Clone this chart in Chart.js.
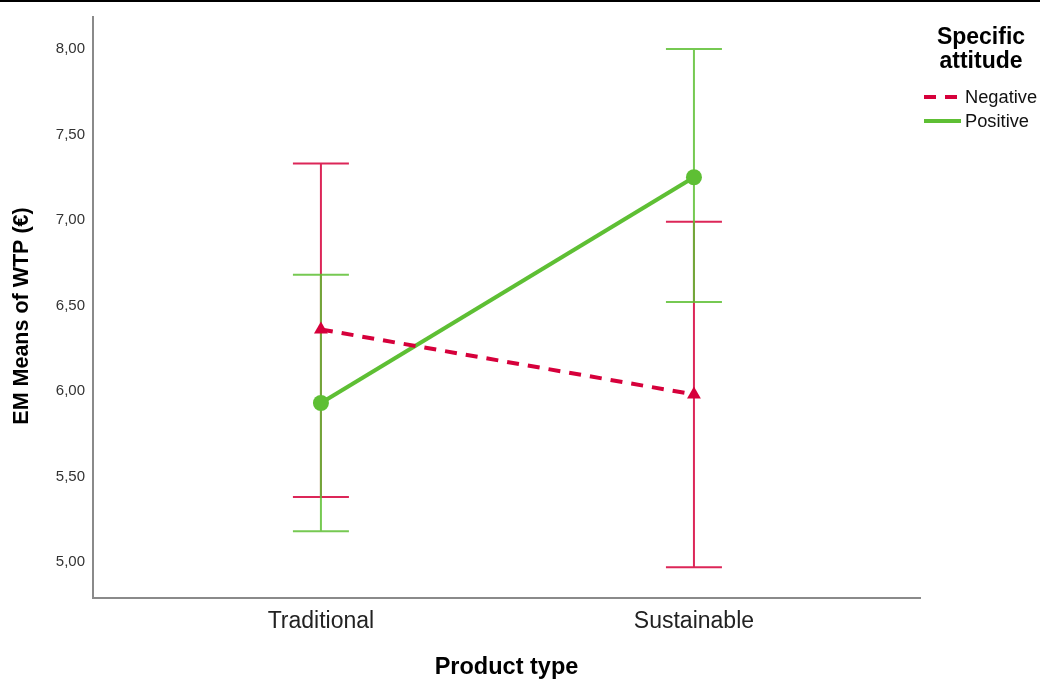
<!DOCTYPE html>
<html>
<head>
<meta charset="utf-8">
<script src="https://cdn.jsdelivr.net/npm/chart.js@4"></script>
<style>
  html, body { margin: 0; padding: 0; background: #fff; }
  #wrap { width: 1040px; height: 680px; position: relative; }
</style>
</head>
<body>
<div id="wrap"><canvas id="c"></canvas></div>
<script>
// Estimated marginal means of willingness to pay, with 95% CI bounds
const categories = ['Traditional', 'Sustainable'];
const seriesNames = ['Negative', 'Positive'];
const negativeMeans = [6.36, 5.98];
const negativeLower = [5.38, 4.97];
const negativeUpper = [7.33, 6.99];
const positiveMeans = [5.93, 7.25];
const positiveLower = [5.18, 6.52];
const positiveUpper = [6.68, 8.00];
const yTickValues = [5.0, 5.5, 6.0, 6.5, 7.0, 7.5, 8.0];

const RED = '#d6003b';
const GREEN = '#5ebf34';
const FONT = "'Liberation Sans', Arial, sans-serif";

const toPoints = arr => arr.map((v, i) => ({ x: i, y: v }));

const errorBars = [
  { color: 'rgba(214,0,59,0.85)', lower: negativeLower, upper: negativeUpper },
  { color: 'rgba(94,191,52,0.85)', lower: positiveLower, upper: positiveUpper }
];

// Whiskers with caps, drawn behind the mean lines
const errorBarPlugin = {
  id: 'errorBars',
  beforeDatasetsDraw(chart) {
    const { ctx, scales: { x, y } } = chart;
    ctx.save();
    ctx.lineWidth = 2;
    errorBars.forEach(eb => {
      ctx.strokeStyle = eb.color;
      eb.lower.forEach((lo, i) => {
        const px = x.getPixelForValue(i);
        const yLo = y.getPixelForValue(lo);
        const yHi = y.getPixelForValue(eb.upper[i]);
        ctx.beginPath();
        ctx.moveTo(px, yLo); ctx.lineTo(px, yHi);
        ctx.moveTo(px - 28, yLo); ctx.lineTo(px + 28, yLo);
        ctx.moveTo(px - 28, yHi); ctx.lineTo(px + 28, yHi);
        ctx.stroke();
      });
    });
    ctx.restore();
  }
};

// Frame line, vertical axis title and the legend block on the right
const legendPlugin = {
  id: 'sideLegend',
  afterDraw(chart) {
    const { ctx } = chart;
    ctx.save();
    ctx.fillStyle = '#000';
    ctx.fillRect(0, 0, chart.width, 2);

    // vertical axis title
    ctx.save();
    ctx.translate(22, 316);
    ctx.rotate(-Math.PI / 2);
    ctx.textAlign = 'center';
    ctx.textBaseline = 'middle';
    ctx.font = 'bold 21.5px ' + FONT;
    ctx.fillText('EM Means of WTP (€)', 0, 0);
    ctx.restore();

    ctx.fillStyle = '#000';
    ctx.textAlign = 'center';
    ctx.textBaseline = 'middle';
    ctx.font = 'bold 23px ' + FONT;
    ctx.fillText('Specific', 981, 38);
    ctx.fillText('attitude', 981, 62);

    ctx.font = '18.3px ' + FONT;
    ctx.textAlign = 'left';
    chart.data.datasets.forEach((ds, i) => {
      const yy = 97 + i * 24;
      ctx.strokeStyle = ds.borderColor;
      ctx.lineWidth = 4;
      ctx.setLineDash(ds.borderDash || []);
      ctx.beginPath();
      ctx.moveTo(924, yy); ctx.lineTo(961, yy);
      ctx.stroke();
      ctx.setLineDash([]);
      ctx.fillStyle = '#111';
      ctx.fillText(ds.label, 965, yy + 1);
    });
    ctx.restore();
  }
};

new Chart(document.getElementById('c'), {
  type: 'line',
  data: {
    datasets: [
      {
        label: seriesNames[0],
        data: toPoints(negativeMeans),
        borderColor: RED,
        backgroundColor: RED,
        borderWidth: 4,
        borderDash: [12, 9],
        pointStyle: 'triangle',
        pointRadius: 8,
        pointBorderWidth: 0,
        pointHoverRadius: 8
      },
      {
        label: seriesNames[1],
        data: toPoints(positiveMeans),
        borderColor: GREEN,
        backgroundColor: GREEN,
        borderWidth: 4,
        pointStyle: 'circle',
        pointRadius: 8,
        pointBorderWidth: 0,
        pointHoverRadius: 8
      }
    ]
  },
  options: {
    responsive: true,
    maintainAspectRatio: false,
    animation: false,
    layout: { padding: { left: 0, right: 120, top: 15, bottom: 0 } },
    plugins: {
      legend: { display: false },
      tooltip: { enabled: false }
    },
    scales: {
      x: {
        type: 'linear',
        min: -0.611,
        max: 1.606,
        afterBuildTicks: s => { s.ticks = categories.map((_, i) => ({ value: i })); },
        afterFit: s => { s.height = 82; },
        grid: { display: false, drawTicks: false },
        border: { display: true, color: '#8a8a8a', width: 2 },
        ticks: {
          callback: v => categories[v],
          color: '#222',
          font: { family: FONT, size: 23 },
          padding: 10,
          maxRotation: 0
        },
        title: {
          display: true,
          text: 'Product type',
          color: '#000',
          font: { family: FONT, size: 23.5, weight: 'bold' },
          padding: { top: 0, bottom: -2 }
        }
      },
      y: {
        type: 'linear',
        min: 4.79,
        max: 8.187,
        afterBuildTicks: s => { s.ticks = yTickValues.map(v => ({ value: v })); },
        afterFit: s => { s.width = 93; },
        grid: { display: false, drawTicks: false },
        border: { display: true, color: '#8a8a8a', width: 2 },
        ticks: {
          callback: v => v.toFixed(2).replace('.', ','),
          color: '#333',
          font: { family: FONT, size: 15 },
          padding: 8
        }
      }
    }
  },
  plugins: [errorBarPlugin, legendPlugin]
});
</script>
</body>
</html>
